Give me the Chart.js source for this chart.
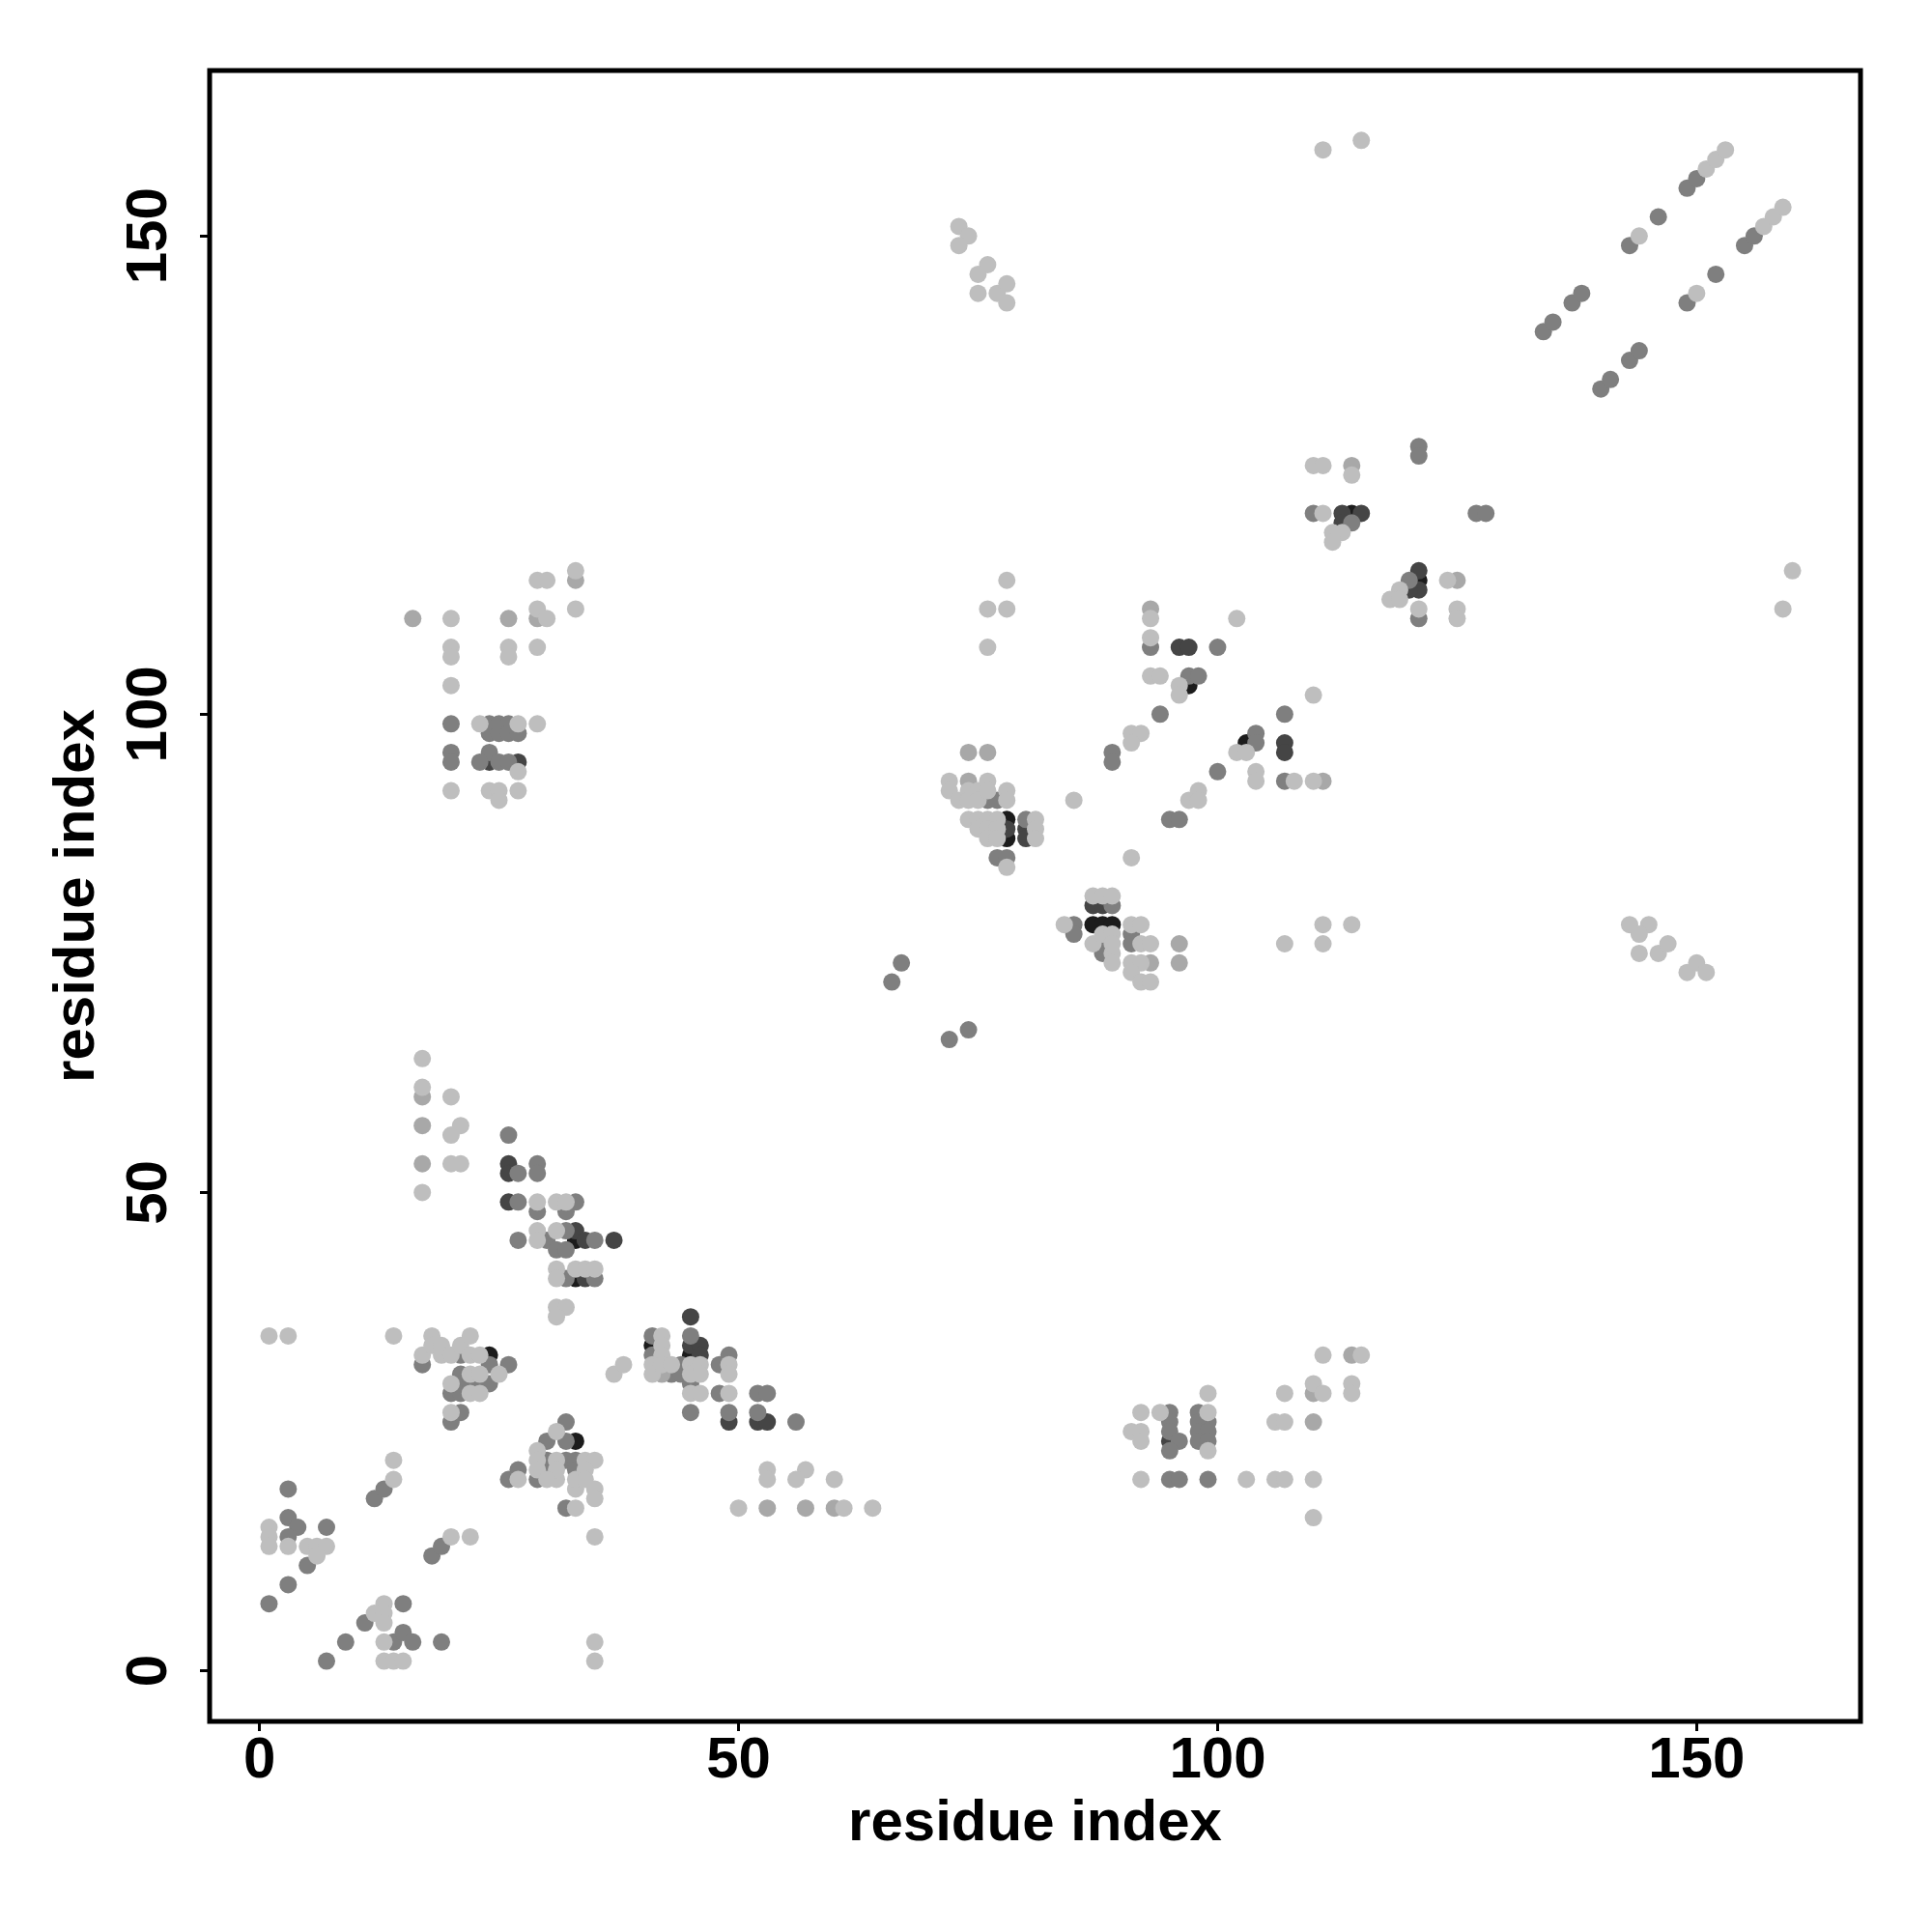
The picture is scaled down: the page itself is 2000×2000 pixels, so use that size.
<!DOCTYPE html>
<html>
<head>
<meta charset="utf-8">
<script src="https://cdn.jsdelivr.net/npm/chart.js@4/dist/chart.umd.min.js"></script>
<style>
  html, body { margin: 0; padding: 0; background: #fff; }
</style>
</head>
<body>
<canvas id="chart" width="2000" height="2000"></canvas>
<script>
"use strict";

// tick positions on both axes
const xTicks = [0, 50, 100, 150];
const yTicks = [0, 50, 100, 150];
const axisLabel = 'residue index';

// contacts [i, j], grouped by shade (lightest to darkest)
const light = [
  [1,35],[3,35],[14,35],
  [17,33],[18,35],[18,34],[19,34],[19,33],[20,33],[21,34],[22,35],[22,33],[23,33],[25,31],[20,30],[22,31],[22,29],[23,29],[23,31],[20,27],
  [31,25],[29,23],[29,22],[29,21],[31,20],[27,20],[33,19],[33,17],[34,22],[35,22],[34,21],[33,20],[34,20],[35,19],[35,18],[31,22],[31,21],[30,20],
  [1,15],[1,14],[1,13],[3,13],[5,13],[6,13],[7,13],[6,12],
  [14,20],[14,22],[20,14],[22,14],
  [13,7],[12,6],[13,6],[13,5],[13,3],[13,1],[14,1],[15,1],
  [35,14],[35,3],[35,1],[37,31],[38,32],
  [41,32],[41,31],[42,35],[42,34],[42,33],[42,32],[43,32],[45,32],[45,31],[45,29],[46,32],[46,31],[46,29],[49,32],[49,31],[49,29],
  [53,21],[53,20],[57,21],[56,20],[60,20],[50,17],[61,17],[64,17],
  [17,64],[17,61],[20,60],[21,57],[20,56],[20,53],[21,53],[17,50],
  [29,49],[31,49],[32,49],[29,46],[29,45],[31,46],[31,42],[31,41],[31,38],[32,38],[31,37],[33,42],[34,42],[35,42],
  [72,93],[72,92],[73,91],[74,92],[74,91],[75,92],[75,91],[76,93],[76,92],[78,92],[78,91],[74,89],[75,89],[76,89],[77,89],
  [81,89],[81,88],[81,87],[75,88],[76,88],[77,88],[76,87],[77,87],[78,84],
  [91,98],[92,98],[91,97],[98,92],[97,91],[98,91],[85,91],[91,85],
  [87,81],[88,81],[89,81],[84,78],[91,78],[92,78],[92,76],[93,76],[87,76],[89,75],[89,74],[91,74],[92,74],[91,73],[92,72],[93,72],[88,77],[89,77],[89,76],
  [78,114],[76,111],[78,111],[76,107],[93,110],[93,108],[93,104],[94,104],[96,103],[96,102],
  [110,126],[111,126],[114,125],[111,121],[113,119],[112,119],[112,118],[119,113],[118,112],[119,112],[124,114],[121,111],[125,111],[125,110],
  [102,110],[110,102],[102,96],[103,96],[104,94],[104,93],[108,93],[110,93],
  [107,76],[111,78],[111,76],[114,78],
  [144,150],[151,157],[152,158],[153,159],[150,144],[157,151],[158,152],[159,153],
  [20,110],[29,111],[30,110],[29,114],[30,114],[33,115],[33,111],[20,107],[20,106],[26,107],[26,106],[29,107],[20,103],
  [23,99],[27,99],[29,99],[27,94],[20,92],[24,92],[25,92],[27,92],[25,91],
  [73,151],[74,150],[73,149],[76,147],[75,146],[75,144],[77,144],[78,145],[78,143],[111,159],[115,160],
  [111,33],[115,33],[110,30],[111,29],[114,30],[114,29],[107,29],[99,29],[92,27],[94,27],[99,27],[91,25],[92,25],[92,24],[99,23],
  [106,26],[107,26],[92,20],[103,20],[106,20],[107,20],[110,20],[110,16],
  [160,115],[159,111],[143,78],[145,78],[144,77],[144,75],[146,75],[147,76],[149,73],[150,74],[151,73]
];

const lightMid = [
  [42,31],[53,17],[57,17],[60,17],[17,60],[17,57],[17,53],[74,96],[76,96],[74,93],[96,76],[93,74],[96,74],
  [93,111],[114,126],[125,114],[111,93],[16,110],[26,110],[29,110],[33,114],[114,33],[110,29],[110,26]
];

const mid = [
  [17,32],[21,33],[26,32],[20,29],[21,31],[21,30],[21,29],[22,30],[23,30],[24,32],[24,30],[21,27],[20,26],
  [32,26],[32,24],[30,24],[29,20],[30,22],[30,21],[27,21],[26,20],[32,22],[32,17],[33,22],[33,21],
  [3,19],[3,16],[4,15],[3,14],[7,15],[5,11],[3,9],[1,7],
  [12,18],[13,19],[18,12],[19,13],
  [11,5],[15,7],[9,3],[7,1],[14,3],[15,4],[16,3],[19,3],
  [41,35],[41,33],[43,31],[44,32],[44,31],[45,35],[45,30],[45,27],[48,32],[48,29],[49,33],[49,27],[52,29],[52,27],[53,29],[56,26],
  [26,56],[27,52],[29,53],[29,52],[27,49],[29,48],[33,49],[32,48],[27,45],[30,45],[32,46],[31,44],[32,44],[32,41],[35,45],[35,41],
  [76,91],[77,91],[80,89],[77,85],[78,85],
  [94,100],[89,96],[89,95],[100,94],[95,89],[96,89],
  [89,80],[85,78],[85,77],[91,77],[91,76],[88,76],[88,75],
  [67,74],[66,72],[74,67],[72,66],
  [93,107],[100,107],[97,104],[98,104],
  [121,128],[121,127],[110,121],[114,120],[127,121],[128,121],[120,114],[121,110],[107,100],[104,98],[104,97],[107,93],
  [134,140],[135,141],[137,143],[138,144],[140,134],[141,135],[143,137],[144,138],
  [143,149],[146,152],[149,155],[150,156],[149,143],[152,146],[155,149],[156,150],
  [20,99],[24,99],[25,99],[26,99],[24,98],[25,98],[26,98],[27,98],[20,96],[20,95],[24,96],[23,95],[25,95],[26,95],
  [95,27],[98,27],[95,26],[95,25],[96,24],[95,23],[98,26],[99,26],[98,25],[99,25],[98,24],[99,24],[95,20],[96,20],[99,20]
];

const dark = [
  [45,37],[45,34],[46,34],[46,33],[49,26],[52,26],[53,26],
  [26,53],[26,52],[26,49],[33,46],[34,45],[37,45],[34,41],
  [78,88],[80,88],[80,87],[87,80],[88,80],
  [96,107],[97,107],
  [113,121],[115,121],[113,120],[121,115],[121,113],[120,113],[107,97],[107,96],
  [24,95],[27,95],[95,24]
];

const black = [
  [24,33],[33,24],[41,34],[45,33],[33,45],[33,41],[78,89],[78,87],[87,78],[88,78],[89,78],[97,103],[114,121],[121,114],[103,97]
];

const shades = [
  {pts: light, color: '#bebebe'},
  {pts: lightMid, color: '#a8a8a8'},
  {pts: mid, color: '#7f7f7f'},
  {pts: dark, color: '#454545'},
  {pts: black, color: '#1c1c1c'},
];

const FONT = '"Liberation Sans", Arial, sans-serif';
const FSIZE = 60;

// box round the plot and the rotated y tick labels
const frame = {
  id: 'frame',
  afterDraw(chart) {
    const {ctx, chartArea: a, scales: {y}} = chart;
    ctx.save();
    ctx.strokeStyle = '#000';
    ctx.lineWidth = 5;
    ctx.strokeRect(a.left, a.top, a.right - a.left, a.bottom - a.top);
    ctx.fillStyle = '#000';
    ctx.font = 'bold ' + FSIZE + 'px ' + FONT;
    ctx.textAlign = 'center';
    ctx.textBaseline = 'alphabetic';
    yTicks.forEach(v => {
      ctx.save();
      ctx.translate(172, y.getPixelForValue(v));
      ctx.rotate(-Math.PI / 2);
      ctx.fillText(String(v), 0, 0);
      ctx.restore();
    });
    ctx.restore();
  }
};

new Chart(document.getElementById('chart').getContext('2d'), {
  type: 'scatter',
  data: {
    datasets: shades.map(s => ({
      data: s.pts.map(([x, y]) => ({x, y})),
      backgroundColor: s.color,
      borderWidth: 0,
      pointRadius: 9,
      pointHoverRadius: 9,
    })),
  },
  options: {
    responsive: false,
    animation: false,
    devicePixelRatio: 1,
    events: [],
    layout: {padding: {top: 73, right: 74, left: 0, bottom: 0}},
    plugins: {legend: {display: false}, tooltip: {enabled: false}},
    scales: {
      x: {
        type: 'linear',
        min: -5.2,
        max: 167.1,
        afterBuildTicks: s => { s.ticks = xTicks.map(v => ({value: v})); },
        afterFit: s => { s.height = 218; },
        border: {display: false},
        grid: {drawOnChartArea: false, drawTicks: true, tickLength: 10, tickWidth: 3, color: '#000'},
        ticks: {
          color: '#000',
          padding: 1,
          maxRotation: 0,
          font: {family: FONT, size: FSIZE, weight: 'bold', lineHeight: 1.0},
        },
        title: {
          display: true,
          text: axisLabel,
          color: '#000',
          font: {family: FONT, size: FSIZE, weight: 'bold', lineHeight: 1.2},
          padding: {top: 0, bottom: 76},
        },
      },
      y: {
        type: 'linear',
        min: -5.3,
        max: 167.3,
        afterBuildTicks: s => { s.ticks = yTicks.map(v => ({value: v})); },
        afterFit: s => { s.width = 217; },
        border: {display: false},
        grid: {drawOnChartArea: false, drawTicks: true, tickLength: 10, tickWidth: 3, color: '#000'},
        ticks: {display: false},
        title: {
          display: true,
          text: axisLabel,
          color: '#000',
          font: {family: FONT, size: FSIZE, weight: 'bold', lineHeight: 1.2},
          padding: {top: 44, bottom: 0},
        },
      },
    },
  },
  plugins: [frame],
});
</script>
</body>
</html>
